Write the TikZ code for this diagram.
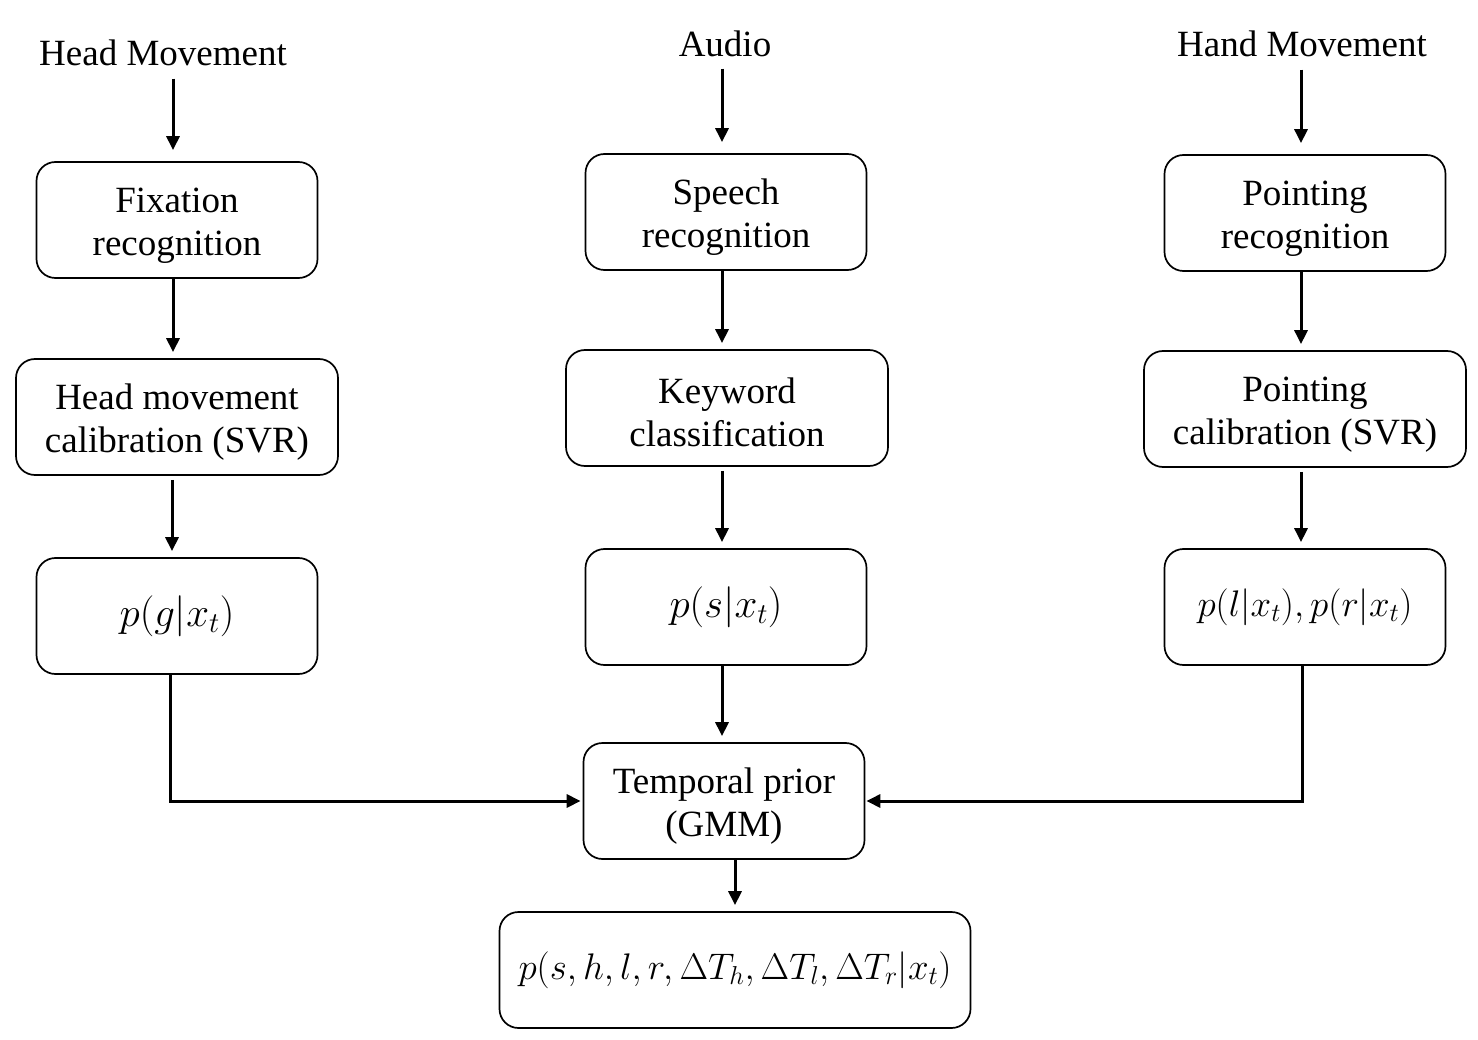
\RequirePackage{fix-cm}
\documentclass[tikz,border=0pt]{standalone}
\usepackage{fontspec}
\setmainfont{Liberation Serif}
\usetikzlibrary{arrows.meta,calc}
\newcommand\mystrut{\rule{0pt}{35pt}}
\begin{document}
\begin{tikzpicture}[x=1pt,y=-1pt,
  every node/.style={font=\fontsize{37}{43}\selectfont},
  box/.style={draw,line width=1.7pt,rounded corners=19pt,align=center,inner sep=0pt,minimum height=116pt},
  nbox/.style={box,minimum width=281pt},
  wbox/.style={box,minimum width=322pt},
  mbox/.style={nbox,font=\fontsize{41}{47}\selectfont},
  ttl/.style={inner sep=0pt,anchor=base},
  arr/.style={line width=3pt,-{Triangle[length=14pt,width=13pt]}}
]
\useasboundingbox (0,0) rectangle (1478,1040);
% titles
\node[ttl] (thm) at (163,66) {Head Movement};
\node[ttl] (tau) at (725,57) {Audio};
\node[ttl] (thn) at (1302,57) {Hand Movement};
% left column
\node[nbox] (fix) at (177,220) {\mystrut Fixation\\recognition};
\node[wbox] (hcal) at (177,417) {\mystrut Head movement\\calibration (SVR)};
\node[mbox] (pg) at (177,616) {$p(g|x_t)$};
% middle column
\node[nbox] (sp) at (726,212) {\mystrut Speech\\recognition};
\node[wbox] (kw) at (727,408) {\mystrut Keyword\\classification};
\node[mbox] (ps) at (726,607) {$p(s|x_t)$};
% right column
\node[nbox] (pr) at (1305,213) {\mystrut Pointing\\recognition};
\node[wbox] (pc) at (1305,409) {\mystrut Pointing\\calibration (SVR)};
\node[nbox] (plr) at (1305,607) {$p(l|x_t),p(r|x_t)$};
% bottom
\node[nbox] (tp) at (724,801) {\mystrut Temporal prior\\(GMM)};
\node[box,minimum width=471pt] (out) at (735,970) {$p(s,h,l,r,\Delta T_h,\Delta T_l,\Delta T_r|x_t)$};
% arrows left
\draw[arr,shorten <=12pt,shorten >=11pt] ([xshift=10pt]thm.south) -- ([xshift=-4pt]fix.north);
\draw[arr,shorten >=6pt] ([xshift=-4pt]fix.south) -- ([xshift=-4pt]hcal.north);
\draw[arr,shorten <=4pt,shorten >=6pt] ([xshift=-5pt]hcal.south) -- ([xshift=-5pt]pg.north);
% arrows middle
\draw[arr,shorten <=11pt,shorten >=11pt] ([xshift=-3pt]tau.south) -- ([xshift=-4pt]sp.north);
\draw[arr,shorten >=6pt] ([xshift=-4pt]sp.south) -- ([xshift=-5pt]kw.north);
\draw[arr,shorten <=4pt,shorten >=6pt] ([xshift=-5pt]kw.south) -- ([xshift=-4pt]ps.north);
\draw[arr,shorten >=6pt] ([xshift=-4pt]ps.south) -- ([xshift=-2pt]tp.north);
\draw[arr,shorten >=6pt] ([xshift=11pt]tp.south) -- ([xshift=0pt]out.north);
% arrows right
\draw[arr,shorten <=12pt,shorten >=11pt] ([xshift=-1pt]thn.south) -- ([xshift=-4pt]pr.north);
\draw[arr,shorten >=6pt] ([xshift=-4pt]pr.south) -- ([xshift=-4pt]pc.north);
\draw[arr,shorten <=4pt,shorten >=6pt] ([xshift=-4pt]pc.south) -- ([xshift=-4pt]plr.north);
% merging connectors
\draw[arr,shorten >=2pt] ([xshift=-7pt]pg.south) |- (tp.west);
\draw[arr,shorten >=1pt] ([xshift=-3pt]plr.south) |- (tp.east);
\end{tikzpicture}
\end{document}
